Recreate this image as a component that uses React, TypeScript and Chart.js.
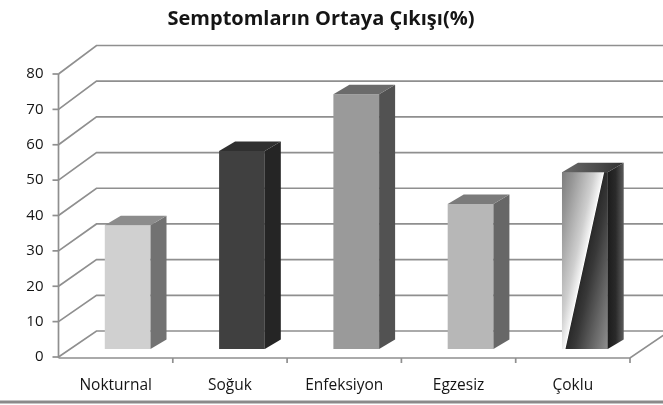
import { useEffect, useRef } from "react";
import { Chart, registerables } from "chart.js";

Chart.register(...registerables);

const titleText = "Semptomların Ortaya Çıkışı(%)";
const categories = ["Nokturnal", "Soğuk", "Enfeksiyon", "Egzesiz", "Çoklu"];
const values = [35, 56, 72, 41, 50];
const yTickValues = [0, 10, 20, 30, 40, 50, 60, 70, 80];

const frontColors = ["#d0d0d0", "#404040", "#9a9a9a", "#b7b7b7", "#9a9a9a"];
const sideColors = ["#727272", "#252525", "#525252", "#676767", "grad"];
const topColors = ["#8c8c8c", "#303030", "#6b6b6b", "#7b7b7b", "grad"];

// geometry of the pseudo-3D look (pixels)
const BAR_DX = 12; // bar plane offset from front plane
const BAR_DY = -8;
const BACK_DX = 38; // back wall offset from front plane
const BACK_DY = -26;
const SIDE_DX = 16; // bar depth
const SIDE_DY = -9.5;

const FONT = "'Open Sans', 'DejaVu Sans', sans-serif";

const wall3d = {
  id: "wall3d",
  beforeDatasetsDraw(chart: any) {
    const { ctx, chartArea } = chart;
    const ys = chart.scales.y;
    const n = categories.length;
    const fx0 = chartArea.left - BAR_DX;
    const fx1 = chartArea.right - BAR_DX;
    const maxV = ys.max;
    const frontY = (v: number) => ys.getPixelForValue(v) - BAR_DY;
    const backY = (v: number) => frontY(v) + BACK_DY - (v / maxV) * 2.5;
    ctx.save();
    ctx.lineCap = "butt";
    ctx.strokeStyle = "#8f8f8f";
    ctx.lineWidth = 1.7;
    for (const v of yTickValues) {
      const fy = frontY(v);
      const by = backY(v);
      ctx.beginPath();
      ctx.moveTo(fx0, fy);
      ctx.lineTo(fx0 + BACK_DX, by);
      ctx.lineTo(chart.width, by);
      ctx.stroke();
      ctx.beginPath();
      ctx.moveTo(fx0 - 6, fy);
      ctx.lineTo(fx0, fy);
      ctx.stroke();
    }
    const f0 = frontY(0);
    ctx.beginPath();
    ctx.moveTo(fx0, frontY(maxV));
    ctx.lineTo(fx0, f0 + 1);
    ctx.stroke();
    ctx.beginPath();
    ctx.moveTo(fx0, f0 + 1);
    ctx.lineTo(fx1, f0 + 1);
    ctx.lineTo(fx1 + BACK_DX, f0 + 1 + BACK_DY);
    ctx.stroke();
    const cw = chartArea.width / n;
    for (let i = 1; i <= n; i++) {
      const bx = chartArea.left + i * cw - BAR_DX;
      ctx.beginPath();
      ctx.moveTo(bx, f0 + 1);
      ctx.lineTo(bx, f0 + 6);
      ctx.stroke();
    }
    ctx.restore();
  },
  afterDatasetsDraw(chart: any) {
    const { ctx } = chart;
    const meta = chart.getDatasetMeta(0);
    ctx.save();
    meta.data.forEach((bar: any, i: number) => {
      const p = bar.getProps(["x", "y", "base", "width"], true);
      const l = p.x - p.width / 2;
      const r = p.x + p.width / 2;
      const t = p.y;
      const b = p.base;
      if (sideColors[i] === "grad") {
        const sx = l + 3, sy = b;
        const ex = r - 4, ey = t;
        const mx = (sx + ex) / 2, my = (sy + ey) / 2;
        let nx = sy - ey, ny = ex - sx;
        const len = Math.hypot(nx, ny);
        nx /= len; ny /= len;
        const L = 46;
        const g = ctx.createLinearGradient(mx - nx * L, my - ny * L, mx + nx * L, my + ny * L);
        g.addColorStop(0, "#707070");
        g.addColorStop(0.18, "#969696");
        g.addColorStop(0.4, "#cfcfcf");
        g.addColorStop(0.49, "#f4f4f4");
        g.addColorStop(0.5, "#ffffff");
        g.addColorStop(0.51, "#2a2a2a");
        g.addColorStop(0.6, "#383838");
        g.addColorStop(0.8, "#6a6a6a");
        g.addColorStop(1, "#9a9a9a");
        ctx.fillStyle = g;
        ctx.fillRect(l, t, r - l, b - t);
      }
      let sideFill: any = sideColors[i];
      if (sideFill === "grad") {
        const g = ctx.createLinearGradient(r, 0, r + SIDE_DX, 0);
        g.addColorStop(0, "#1c1c1c");
        g.addColorStop(0.5, "#2a2a2a");
        g.addColorStop(1, "#5c5c5c");
        sideFill = g;
      }
      ctx.fillStyle = sideFill;
      ctx.beginPath();
      ctx.moveTo(r, t);
      ctx.lineTo(r + SIDE_DX, t + SIDE_DY);
      ctx.lineTo(r + SIDE_DX, b + SIDE_DY);
      ctx.lineTo(r, b);
      ctx.closePath();
      ctx.fill();
      let topFill: any = topColors[i];
      if (topFill === "grad") {
        const g = ctx.createLinearGradient(l, 0, r + SIDE_DX, 0);
        g.addColorStop(0, "#6a6a6a");
        g.addColorStop(0.6, "#4a4a4a");
        g.addColorStop(1, "#303030");
        topFill = g;
      }
      ctx.fillStyle = topFill;
      ctx.beginPath();
      ctx.moveTo(l, t);
      ctx.lineTo(l + SIDE_DX, t + SIDE_DY);
      ctx.lineTo(r + SIDE_DX, t + SIDE_DY);
      ctx.lineTo(r, t);
      ctx.closePath();
      ctx.fill();
    });
    ctx.restore();
  },
  afterDraw(chart: any) {
    const { ctx } = chart;
    ctx.save();
    ctx.fillStyle = "#8a8a8a";
    ctx.fillRect(0, chart.height - 4.5, chart.width, 3);
    ctx.restore();
  },
};

export default function App() {
  const ref = useRef<HTMLCanvasElement | null>(null);
  useEffect(() => {
    if (!ref.current) return;
    const chart = new Chart(ref.current, {
      type: "bar",
      data: {
        labels: categories,
        datasets: [
          {
            data: values,
            backgroundColor: frontColors,
            borderWidth: 0,
            categoryPercentage: 1,
            barPercentage: 0.4,
          },
        ],
      },
      options: {
        animation: false,
        responsive: false,
        layout: { padding: { top: 0, right: 21, bottom: 0, left: 0 } },
        plugins: {
          legend: { display: false },
          tooltip: { enabled: false },
          title: {
            display: true,
            text: titleText,
            color: "#151515",
            font: { family: FONT, size: 20, weight: "bold" },
            padding: { top: 7, bottom: 35 },
          },
        },
        scales: {
          x: {
            grid: { display: false },
            border: { display: false },
            ticks: {
              color: "#151515",
              font: { family: FONT, size: 15.5 },
              labelOffset: -BAR_DX,
              padding: 19,
              maxRotation: 0,
            },
            afterFit: (s: any) => {
              s.height = 56;
            },
          },
          y: {
            min: 0,
            max: 80,
            grid: { display: false, drawTicks: false },
            border: { display: false },
            ticks: {
              stepSize: 10,
              color: "#151515",
              font: { family: FONT, size: 15 },
              labelOffset: -BAR_DY,
              padding: 27,
            },
            afterFit: (s: any) => {
              s.width = 70.5;
            },
          },
        },
      },
      plugins: [wall3d],
    } as any);
    return () => chart.destroy();
  }, []);
  return (
    <div style={{ position: "absolute", left: 0, top: 0, width: 663, height: 405, background: "#fff" }}>
      <canvas ref={ref} width={663} height={405} style={{ display: "block" }} />
    </div>
  );
}
